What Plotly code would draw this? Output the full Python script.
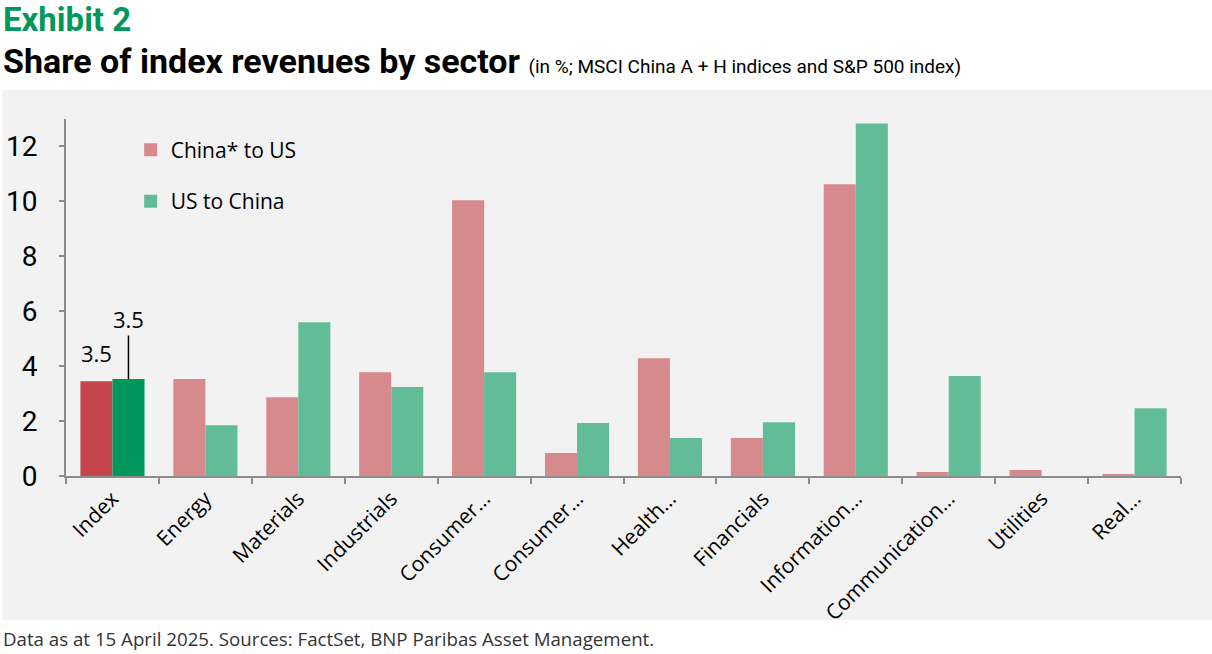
import plotly.graph_objects as go

sectors = ["Index", "Energy", "Materials", "Industrials", "Consumer Discretionary",
           "Consumer Staples", "Health Care", "Financials", "Information Technology",
           "Communication Services", "Utilities", "Real Estate"]
tick_labels = ["Index", "Energy", "Materials", "Industrials", "Consumer…", "Consumer…",
               "Health…", "Financials", "Information…", "Communication…", "Utilities", "Real…"]
china_to_us = [3.45, 3.53, 2.87, 3.78, 10.04, 0.84, 4.29, 1.38, 10.62, 0.15, 0.22, 0.04]
us_to_china = [3.53, 1.85, 5.6, 3.24, 3.78, 1.93, 1.38, 1.96, 12.84, 3.64, 0.0, 2.47]
y_ticks = [0, 2, 4, 6, 8, 10, 12]

RED, RED_DARK = "#d78a8d", "#c4454b"
GREEN, GREEN_DARK = "#62bc98", "#00975c"
AXIS = "#8c8c8c"

fig = go.Figure()
fig.add_bar(x=sectors, y=china_to_us, name="China* to US", showlegend=False,
            marker_color=[RED_DARK] + [RED] * (len(sectors) - 1), marker_line_width=0)
fig.add_bar(x=sectors, y=us_to_china, name="US to China", showlegend=False,
            marker_color=[GREEN_DARK] + [GREEN] * (len(sectors) - 1), marker_line_width=0)

# legend entries in the pale colours
for name, col, grp in [("China* to US", RED, "a"), ("US to China", GREEN, "b")]:
    fig.add_scatter(x=[None], y=[None], mode="markers", name=name, legendgroup=grp,
                    marker=dict(symbol="square", size=13, color=col))

# index labels
fig.add_annotation(x=sectors[0], y=china_to_us[0], xshift=-16, yshift=11, yanchor="bottom",
                   text=f"{china_to_us[0]:.1f}", showarrow=False,
                   font=dict(size=22, color="black"))
fig.add_annotation(x=sectors[0], y=us_to_china[0], xshift=16, text=f"{us_to_china[0]:.1f}",
                   showarrow=True, arrowhead=0, arrowwidth=1.5, arrowcolor="black",
                   ax=0, ay=-60, font=dict(size=22, color="black"))

# gray panel behind the chart
fig.add_shape(type="rect", xref="paper", yref="paper", x0=-0.057, x1=1.03, y0=-0.403, y1=1.081,
              fillcolor="#f2f2f2", line_width=0, layer="below")

fig.add_annotation(xref="paper", yref="paper", x=-0.058, y=1.28, xanchor="left", yanchor="middle",
                   text="<b>Exhibit 2</b>", showarrow=False,
                   font=dict(family="Roboto", size=33, color="#00975c"))
fig.add_annotation(xref="paper", yref="paper", x=-0.058, y=1.1625, xanchor="left", yanchor="middle",
                   text="<b>Share of index revenues by sector</b> "
                        "<span style='font-size:19px'>(in %; MSCI China A + H indices and S&P 500 index)</span>",
                   showarrow=False, font=dict(family="Roboto", size=34, color="black"))
fig.add_annotation(xref="paper", yref="paper", x=-0.058, y=-0.454, xanchor="left", yanchor="middle",
                   text="Data as at 15 April 2025. Sources: FactSet, BNP Paribas Asset Management.",
                   showarrow=False, font=dict(family="Open Sans", size=18.7, color="#333333"))

fig.update_layout(
    width=1212, height=654,
    margin=dict(l=66, r=31, t=119, b=178, autoexpand=False),
    paper_bgcolor="white", plot_bgcolor="rgba(0,0,0,0)",
    barmode="group", bargap=0.31, bargroupgap=0,
    font=dict(family="Open Sans", color="black"),
    showlegend=True,
    legend=dict(x=0.058, y=0.97, xanchor="left", yanchor="top", bgcolor="rgba(0,0,0,0)",
                font=dict(size=21), traceorder="grouped", tracegroupgap=21),
)
fig.update_xaxes(tickvals=sectors, ticktext=tick_labels, tickangle=-45, automargin=False,
                 tickfont=dict(size=21), showline=True, linecolor=AXIS, linewidth=2,
                 ticks="outside", tickson="boundaries", ticklen=6, tickcolor=AXIS, tickwidth=2,
                 showgrid=False)
fig.update_yaxes(range=[0, 13], tickvals=y_ticks, tickfont=dict(size=28, family="Roboto"),
                 ticklabelstandoff=16, automargin=False,
                 showline=True, linecolor=AXIS, linewidth=2, ticks="outside", ticklen=5,
                 tickcolor=AXIS, tickwidth=2, showgrid=False, zeroline=False)

fig.write_html("out.html", config={"displayModeBar": False},
               post_script="document.body.style.margin='0';")
